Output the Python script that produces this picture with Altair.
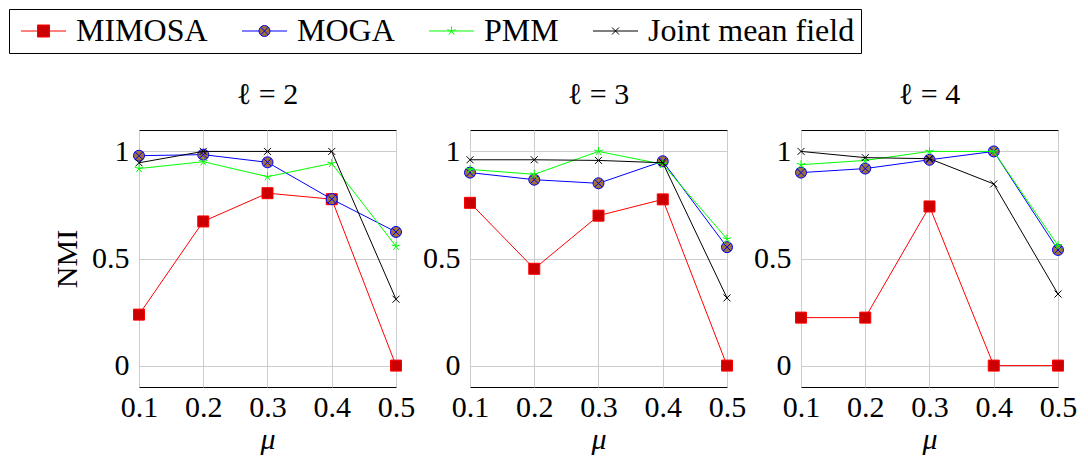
import altair as alt
import pandas as pd

# ---------------- data ----------------
mu = [0.1, 0.2, 0.3, 0.4, 0.5]
series_names = ["MIMOSA", "MOGA", "PMM", "Joint mean field"]
panels = [2, 3, 4]

mimosa_l2 = [0.238, 0.673, 0.805, 0.777, 0.0]
moga_l2 = [0.980, 0.985, 0.949, 0.777, 0.624]
pmm_l2 = [0.920, 0.952, 0.882, 0.944, 0.557]
joint_l2 = [0.947, 1.0, 1.0, 1.0, 0.310]

mimosa_l3 = [0.760, 0.452, 0.700, 0.776, 0.0]
moga_l3 = [0.901, 0.868, 0.851, 0.954, 0.553]
pmm_l3 = [0.916, 0.893, 1.0, 0.940, 0.591]
joint_l3 = [0.961, 0.961, 0.958, 0.947, 0.316]

mimosa_l4 = [0.224, 0.224, 0.743, 0.0, 0.0]
moga_l4 = [0.901, 0.920, 0.961, 1.0, 0.540]
pmm_l4 = [0.938, 0.958, 1.0, 1.0, 0.560]
joint_l4 = [1.0, 0.971, 0.966, 0.848, 0.334]

y_ticks = [0, 0.5, 1]

values = {
    2: [mimosa_l2, moga_l2, pmm_l2, joint_l2],
    3: [mimosa_l3, moga_l3, pmm_l3, joint_l3],
    4: [mimosa_l4, moga_l4, pmm_l4, joint_l4],
}

rows = []
for l in panels:
    for s, vals in zip(series_names, values[l]):
        for m, v in zip(mu, vals):
            rows.append({"panel": l, "series": s, "mu": m, "nmi": v})
df = pd.DataFrame(rows)

# ---------------- styles ----------------
FONT = "Liberation Serif, Times New Roman, DejaVu Serif, serif"
FS = 30
LFS = 32
line_colors = ["#ff0000", "#0000ff", "#00ff00", "#000000"]
fill_colors = ["#cc0000", "#a0703a", "#00ff00", "#000000"]
stroke_colors = ["#ff0000", "#0000ff", "#00ff00", "#000000"]

mark_paths = [
    "M-1,-1H1V1H-1Z",
    "M-1,0A1,1,0,1,0,1,0A1,1,0,1,0,-1,0ZM-0.707,-0.707L0.707,0.707M-0.707,0.707L0.707,-0.707",
    "M0,0L0,-1M0,0L0.951,-0.309M0,0L0.588,0.809M0,0L-0.588,0.809M0,0L-0.951,-0.309",
    "M-1,-1L1,1M-1,1L1,-1",
]
mark_sizes = [121, 121, 81, 49]
mark_filled = [True, True, False, False]

legend_paths = [
    "M-1,0H0.65M1.85,0H3.5M0.65,-0.6H1.85V0.6H0.65Z",
    "M-1,0H0.7M1.8,0H3.5M0.7,0A0.55,0.55,0,1,0,1.8,0A0.55,0.55,0,1,0,0.7,0ZM0.861,-0.389L1.639,0.389M0.861,0.389L1.639,-0.389",
    "M-1,0H3.5M1.25,0L1.25,-0.45M1.25,0L1.678,-0.139M1.25,0L1.515,0.364M1.25,0L0.985,0.364M1.25,0L0.822,-0.139",
    "M-1,0H3.5M0.9,-0.35L1.6,0.35M0.9,0.35L1.6,-0.35",
]

W, H = 257, 257


def panel(l, first):
    base = alt.Chart(df).transform_filter(alt.datum.panel == l)
    xaxis = alt.Axis(values=mu, format=".1f", title="μ")
    yargs = dict(values=y_ticks, format="~g")
    if first:
        yargs["title"] = "NMI"
    else:
        yargs["title"] = ""
    x = alt.X("mu:Q", scale=alt.Scale(domain=[0.1, 0.5], nice=False, zero=False), axis=xaxis)
    y = alt.Y("nmi:Q", scale=alt.Scale(domain=[-0.1, 1.1], nice=False, zero=False), axis=alt.Axis(**yargs))
    layers = []
    for i, s in enumerate(series_names):
        sd = base.transform_filter(alt.datum.series == s)
        layers.append(sd.mark_line(color=line_colors[i], strokeWidth=1).encode(x=x, y=y))
        pkw = dict(shape=mark_paths[i], size=mark_sizes[i], stroke=stroke_colors[i],
                   strokeWidth=1, opacity=1, filled=mark_filled[i])
        if mark_filled[i]:
            pkw["fill"] = fill_colors[i]
        layers.append(sd.mark_point(**pkw).encode(x=x, y=y))
    if first:
        leg = base.transform_filter("datum.nmi > 5").mark_point(filled=True, opacity=1).encode(
            x=x, y=y,
            shape=alt.Shape("series:N", scale=alt.Scale(domain=series_names, range=legend_paths), title=""),
            fill=alt.Fill("series:N", scale=alt.Scale(domain=series_names, range=fill_colors), title=""),
            stroke=alt.Stroke("series:N", scale=alt.Scale(domain=series_names, range=stroke_colors), title=""),
        )
        layers.append(leg)
    return alt.layer(*layers).properties(
        width=W, height=H,
        title=alt.TitleParams(f"ℓ = {l}", font=FONT, fontSize=FS, fontWeight="normal",
                              baseline="alphabetic", offset=-4, color="black"),
    )


chart = alt.hconcat(
    *[panel(l, i == 0) for i, l in enumerate(panels)],
    spacing=74, bounds="flush",
).properties(padding=0).configure(
    font=FONT
).configure_view(
    stroke="black", strokeWidth=1
).configure_axis(
    labelFont=FONT, labelFontSize=FS, labelColor="black",
    titleFont=FONT, titleFontSize=FS, titleColor="black", titleFontWeight="normal",
    grid=True, gridColor="#cccccc", gridWidth=1, domain=False, ticks=False,
).configure_axisX(
    labelPadding=5, labelFlush=False, titlePadding=2, titleFontStyle="italic",
).configure_axisY(
    labelPadding=10, titlePadding=9,
).configure_legend(
    orient="none", legendX=-130, legendY=-121, direction="horizontal", columns=4,
    strokeColor="black", strokeWidth=1, padding=6, fillColor="white",
    labelFont=FONT, labelFontSize=LFS, labelColor="black", labelLimit=500,
    symbolSize=400, symbolStrokeWidth=1, symbolOpacity=1,
    labelOffset=29, columnPadding=28, titleFontSize=0, titlePadding=0,
)

chart.save("out.html", embed_options={"renderer": "svg", "actions": False})
